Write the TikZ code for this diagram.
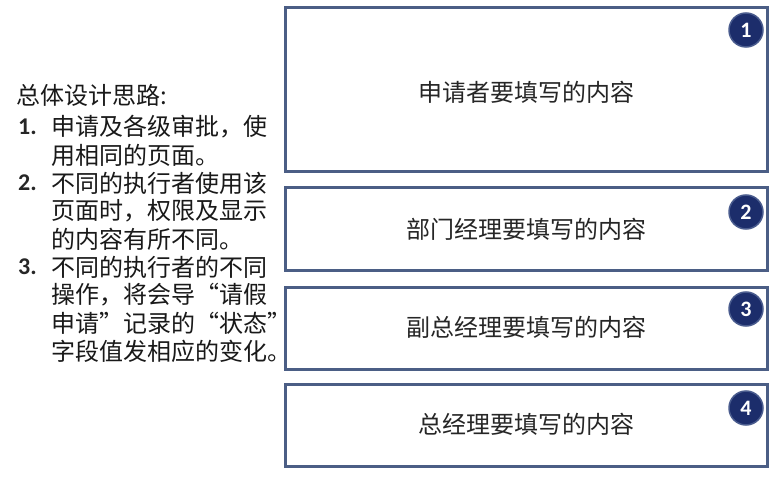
\documentclass[tikz,border=0pt]{standalone}
\usepackage{fontspec}
\setmainfont{Carlito}
\newfontfamily\cjk{Noto Sans CJK SC}
\definecolor{boxline}{HTML}{4B5E85}
\definecolor{badge}{HTML}{1C2D6B}
\definecolor{badgeline}{HTML}{4A5C8E}
\begin{document}
\begin{tikzpicture}[x=1pt,y=-1pt,
  panel/.style={draw=boxline,line width=3pt,fill=white},
  paneltext/.style={font=\cjk\fontsize{24}{26}\selectfont,text=black!85},
  num/.style={circle,fill=badge,draw=badgeline,line width=1.5pt,minimum size=34pt,inner sep=0pt,text=white,font=\bfseries\fontsize{22}{22}\selectfont},
  lefttext/.style={anchor=west,inner sep=0pt,font=\cjk\fontsize{24}{26}\selectfont,text=black!90},
  leftnum/.style={anchor=west,inner sep=0pt,font=\bfseries\fontsize{24}{26}\selectfont,text=black!85}]
\useasboundingbox[fill=white] (0,0) rectangle (782,481);
% panels
\draw[panel] (285,8) rectangle (767,172);
\draw[panel] (285,188) rectangle (767,271);
\draw[panel] (285,287) rectangle (767,369);
\draw[panel] (285,384) rectangle (767,466);
\node[paneltext] (t1) at (526,92) {申请者要填写的内容};
\node[paneltext] (t2) at (526,229) {部门经理要填写的内容};
\node[paneltext] (t3) at (526,327) {副总经理要填写的内容};
\node[paneltext] (t4) at (526,424) {总经理要填写的内容};
\node[num] (n1) at (746,30) {1};
\node[num] (n2) at (746,212) {2};
\node[num] (n3) at (746,309) {3};
\node[num] (n4) at (746,408) {4};
% left text
\node[lefttext] (h) at (16,95) {总体设计思路:};
\node[leftnum] (l1) at (18,127) {1.};
\node[lefttext] (a1) at (51,127) {申请及各级审批，使};
\node[lefttext] (a2) at (51,155) {用相同的页面。};
\node[leftnum] (l2) at (18,183) {2.};
\node[lefttext] (b1) at (51,183) {不同的执行者使用该};
\node[lefttext] (b2) at (51,211) {页面时，权限及显示};
\node[lefttext] (b3) at (51,239) {的内容有所不同。};
\node[leftnum] (l3) at (18,267) {3.};
\node[lefttext] (c1) at (51,267) {不同的执行者的不同};
\node[lefttext] (c2) at (51,295) {操作，将会导“请假};
\node[lefttext] (c3) at (51,323) {申请”记录的“状态”};
\node[lefttext] (c4) at (51,351) {字段值发相应的变化。};
\end{tikzpicture}
\end{document}
